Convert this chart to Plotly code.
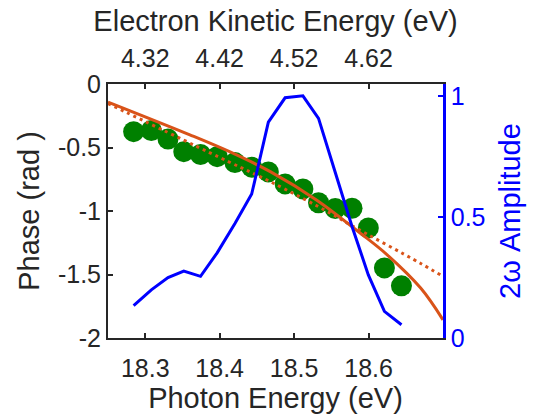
import plotly.graph_objects as go

# ---- data ----
photon_energy = [18.2844, 18.3082, 18.3306, 18.3518, 18.3743, 18.3966, 18.4205, 18.4430,
                 18.4654, 18.4879, 18.5118, 18.5328, 18.5553, 18.5778, 18.5997, 18.6213, 18.6442]
phase = [-0.375, -0.366, -0.434, -0.533, -0.555, -0.572, -0.619, -0.655,
         -0.692, -0.787, -0.826, -0.935, -0.980, -0.978, -1.133, -1.448, -1.589]
amplitude = [0.134, 0.199, 0.250, 0.277, 0.255, 0.352, 0.473, 0.595,
             0.892, 0.993, 1.001, 0.908, 0.684, 0.461, 0.261, 0.110, 0.055]

fit_energy = [18.25, 18.36, 18.414, 18.468, 18.53, 18.589, 18.625, 18.67, 18.70]
fit_phase = [-0.142, -0.400, -0.535, -0.690, -0.913, -1.175, -1.345, -1.607, -1.857]

lin_energy = [18.25, 18.4116, 18.4677, 18.5486, 18.5755, 18.6695, 18.6965]
lin_phase = [-0.154, -0.611, -0.768, -1.017, -1.109, -1.411, -1.503]

x_ticks = [18.3, 18.4, 18.5, 18.6]
bottom_tick_labels = ["18.3", "18.4", "18.5", "18.6"]
top_tick_labels = ["4.32", "4.42", "4.52", "4.62"]   # electron kinetic energy at same positions
left_ticks = [-2, -1.5, -1, -0.5, 0]
left_tick_labels = ["-2", "-1.5", "-1", "-0.5", "0"]
right_ticks = [0, 0.5, 1]
right_tick_labels = ["0", "0.5", "1"]

FONT = "Liberation Sans, Arial, Helvetica, sans-serif"
DARK = "#262626"
ORANGE = "#D95319"
GREEN = "#008000"
BLUE = "#0000FF"
TICK_SIZE = 25
TITLE_SIZE = 29

fig = go.Figure()

fig.add_trace(go.Scatter(
    x=photon_energy, y=phase, mode="markers",
    marker=dict(size=21, color=GREEN, line=dict(width=0)),
    xaxis="x", yaxis="y", showlegend=False))

fig.add_trace(go.Scatter(
    x=lin_energy, y=lin_phase, mode="lines",
    line=dict(color=ORANGE, width=3, dash="3px,4px", shape="spline"),
    xaxis="x", yaxis="y", showlegend=False))

fig.add_trace(go.Scatter(
    x=fit_energy, y=fit_phase, mode="lines",
    line=dict(color=ORANGE, width=3, shape="spline"),
    xaxis="x", yaxis="y", showlegend=False))

fig.add_trace(go.Scatter(
    x=photon_energy, y=amplitude, mode="lines",
    line=dict(color=BLUE, width=3),
    xaxis="x2", yaxis="y2", showlegend=False))

xrange = [18.25, 18.70]

fig.update_layout(
    width=534, height=416,
    margin=dict(l=108, r=91, t=84, b=78, autoexpand=False),
    paper_bgcolor="white", plot_bgcolor="white",
    font=dict(family=FONT, size=TICK_SIZE, color=DARK),
    xaxis=dict(
        range=xrange, tickvals=x_ticks, ticktext=bottom_tick_labels,
        ticks="inside", ticklen=5, tickwidth=2, tickcolor=DARK,
        showline=True, linewidth=2, linecolor=DARK,
        showgrid=False, zeroline=False, automargin=False,
        tickfont=dict(size=TICK_SIZE, color=DARK), ticklabelstandoff=7,
        title=dict(text="Photon Energy (eV)", font=dict(size=TITLE_SIZE, color=DARK), standoff=6),
    ),
    xaxis2=dict(
        range=xrange, tickvals=x_ticks, ticktext=top_tick_labels,
        overlaying="x", side="top", anchor="y2",
        ticks="inside", ticklen=5, tickwidth=2, tickcolor=DARK,
        showline=True, linewidth=2, linecolor=DARK,
        showgrid=False, zeroline=False, automargin=False,
        tickfont=dict(size=TICK_SIZE, color=DARK), ticklabelstandoff=5,
        title=dict(text="Electron Kinetic Energy (eV)", font=dict(size=TITLE_SIZE, color=DARK), standoff=4),
    ),
    yaxis=dict(
        range=[-2, 0], tickvals=left_ticks, ticktext=left_tick_labels,
        ticks="inside", ticklen=5, tickwidth=2, tickcolor=DARK,
        showline=True, linewidth=2, linecolor=DARK,
        showgrid=False, zeroline=False, automargin=False,
        tickfont=dict(size=TICK_SIZE, color=DARK),
        title=dict(text="Phase (rad )", font=dict(size=TITLE_SIZE, color=DARK), standoff=10),
    ),
    yaxis2=dict(
        range=[0, 1.05], tickvals=right_ticks, ticktext=right_tick_labels,
        overlaying="y", side="right", anchor="x2",
        ticks="inside", ticklen=5, tickwidth=2, tickcolor=BLUE,
        showline=True, linewidth=2.5, linecolor=BLUE,
        showgrid=False, zeroline=False, automargin=False,
        tickfont=dict(size=TICK_SIZE, color=BLUE),
        title=dict(text="2ω Amplitude", font=dict(size=TITLE_SIZE, color=BLUE), standoff=16),
    ),
)

fig.write_html("out.html", config={"displayModeBar": False},
               post_script="document.body.style.margin='0';document.body.style.padding='0';")
